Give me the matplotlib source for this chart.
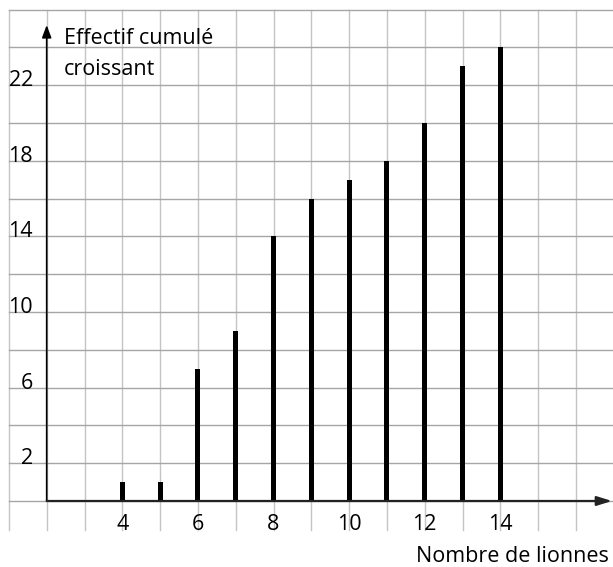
import matplotlib
matplotlib.use("Agg")
import matplotlib.pyplot as plt
import numpy as np

plt.rcParams['font.family'] = ['Open Sans', 'DejaVu Sans']

# Data
x_values = [4, 5, 6, 7, 8, 9, 10, 11, 12, 13, 14]
cumul = [1, 1, 7, 9, 14, 16, 17, 18, 20, 23, 24]
x_ticks = [4, 6, 8, 10, 12, 14]
y_ticks = [2, 6, 10, 14, 18, 22]
y_title_lines = ["Effectif cumulé", "croissant"]
x_title = "Nombre de lionnes"

fig = plt.figure(figsize=(6.13, 5.67), dpi=100)
ax = fig.add_axes([0, 0, 1, 1])
px_x = 37.8
px_y = 18.9
x0 = 2 - 46.7 / px_x
x1 = 2 + (613 - 46.7) / px_x
y1 = 501 / px_y
y0 = -(567 - 501) / px_y
ax.set_xlim(x0, x1)
ax.set_ylim(y0, y1)
ax.axis('off')


def dx(px):
    return 2 + (px - 46.7) / px_x


def dy(py):
    return (501 - py) / px_y


# grid
for gx in range(1, 18):
    ax.plot([gx, gx], [-1.55, 26], color='#c4c4c4', lw=1.0, zorder=1)
for gy in range(0, 27, 2):
    ax.plot([1, 17.2], [gy, gy], color='#a6a6a6', lw=1.0, zorder=1)

# bars
ax.bar(x_values, cumul, width=0.13, color='black', zorder=3)

# axes with arrows
ax.annotate('', xy=(2, dy(25)), xytext=(2, 0),
            arrowprops=dict(arrowstyle='-|>,head_length=0.75,head_width=0.28',
                            color='black', lw=1.2, shrinkA=0, shrinkB=0), zorder=4)
ax.annotate('', xy=(dx(612), 0), xytext=(2, 0),
            arrowprops=dict(arrowstyle='-|>,head_length=0.9,head_width=0.28',
                            color='#222222', lw=1.6, shrinkA=0, shrinkB=0), zorder=4)

fs = 15.5
# tick labels
for t in x_ticks:
    ax.text(t, dy(530), str(t), ha='center', va='baseline', fontsize=fs, zorder=5)
for t in y_ticks:
    ax.text(dx(33), t - 1 / px_y, str(t), ha='right', va='baseline',
            fontsize=fs, zorder=5)

ax.text(dx(64), dy(44), y_title_lines[0], ha='left', va='baseline',
        fontsize=fs, zorder=5)
ax.text(dx(64), dy(75), y_title_lines[1], ha='left', va='baseline',
        fontsize=fs, zorder=5)
ax.text(dx(609), dy(562), x_title, ha='right', va='baseline', fontsize=fs, zorder=5)

fig.savefig('out.png', dpi=100)
